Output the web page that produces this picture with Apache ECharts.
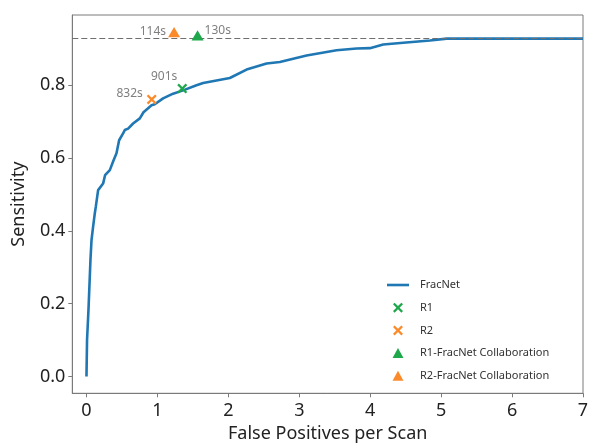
<!DOCTYPE html>
<html>
<head>
<meta charset="utf-8">
<script src="https://cdn.jsdelivr.net/npm/echarts@6/dist/echarts.min.js"></script>
<style>html,body{margin:0;padding:0;background:#fff}#c{width:590px;height:443px}</style>
</head>
<body>
<div id="c"></div>
<script>
// FracNet FROC curve (false positives per scan vs sensitivity)
const fracnetFP = [0, 0.008, 0.028, 0.056, 0.071, 0.093, 0.117, 0.131, 0.164, 0.188, 0.234, 0.262, 0.329, 0.378, 0.423, 0.46, 0.516, 0.54, 0.587, 0.657, 0.752, 0.804, 0.917, 0.963, 1.08, 1.221, 1.362, 1.551, 1.645, 2.021, 2.257, 2.539, 2.726, 3.103, 3.526, 3.808, 3.996, 4.183, 4.466, 4.842, 5.078, 7.0];
const fracnetSens = [0, 0.101, 0.183, 0.320, 0.375, 0.411, 0.448, 0.466, 0.512, 0.517, 0.530, 0.553, 0.567, 0.592, 0.613, 0.649, 0.668, 0.677, 0.681, 0.695, 0.709, 0.726, 0.745, 0.748, 0.764, 0.777, 0.786, 0.800, 0.806, 0.820, 0.843, 0.860, 0.864, 0.882, 0.896, 0.901, 0.902, 0.912, 0.917, 0.923, 0.928, 0.928];
const maxSensitivity = 0.928;

const readerNames = ['R1', 'R2', 'R1-FracNet Collaboration', 'R2-FracNet Collaboration'];
const readerFP = [1.35, 0.92, 1.566, 1.235];
const readerSens = [0.791, 0.761, 0.937, 0.946];
const readerTimes = ['901s', '832s', '130s', '114s'];

const xTicks = [0, 1, 2, 3, 4, 5, 6, 7];
const yTicks = [0, 0.2, 0.4, 0.6, 0.8];

const BLUE = '#1f77b4', GREEN = '#1ea84b', ORANGE = '#fb8a2a';
const XPATH = 'path://M0,1.6L1.6,0L5,3.4L8.4,0L10,1.6L6.6,5L10,8.4L8.4,10L5,6.6L1.6,10L0,8.4L3.4,5Z';
const TRIPATH = 'path://M6,0L12,11L0,11Z';
const LINEPATH = 'path://M0,0H22V2.6H0Z';
const FONT = 'Noto Sans';

const readerStyle = [
  {color: GREEN, symbol: XPATH, size: 10, label: {position: 'left', distance: 0, offset: [0, -12]}},
  {color: ORANGE, symbol: XPATH, size: 10, label: {position: 'left', distance: 4, offset: [0, -6]}},
  {color: GREEN, symbol: TRIPATH, size: [12, 11], label: {position: 'right', distance: 1, offset: [0, -5]}},
  {color: ORANGE, symbol: TRIPATH, size: [12, 11], label: {position: 'left', distance: 2, offset: [0, -1]}}
];

const series = [{
  name: 'FracNet',
  type: 'line',
  data: fracnetFP.map((x, i) => [x, fracnetSens[i]]),
  symbol: 'none',
  smooth: false,
  lineStyle: {color: BLUE, width: 2.6},
  itemStyle: {color: BLUE},
  z: 2,
  markLine: {
    silent: true,
    symbol: 'none',
    label: {show: false},
    lineStyle: {color: '#6f6f6f', type: [6, 3], width: 1},
    data: [{yAxis: maxSensitivity}]
  }
}];
readerNames.forEach((n, i) => {
  const s = readerStyle[i];
  series.push({
    name: n,
    type: 'scatter',
    data: [[readerFP[i], readerSens[i]]],
    symbol: s.symbol,
    symbolSize: s.size,
    symbolKeepAspect: true,
    itemStyle: {color: s.color, opacity: 1},
    z: 5,
    label: Object.assign({
      show: true,
      formatter: readerTimes[i],
      color: '#7f7f7f',
      fontSize: 12,
      fontFamily: FONT
    }, s.label)
  });
});

const legendIcons = [LINEPATH, XPATH, XPATH, TRIPATH, TRIPATH];

const chart = echarts.init(document.getElementById('c'), null, {renderer: 'canvas'});
chart.setOption({
  animation: false,
  backgroundColor: '#fff',
  grid: {left: 72.3, right: 7, top: 15, bottom: 49.7, show: true, borderColor: '#7a7a7a', borderWidth: 1,
         containLabel: false, outerBoundsMode: 'none'},
  xAxis: {
    type: 'value', min: -0.2, max: 7,
    name: 'False Positives per Scan', nameLocation: 'middle', nameGap: 32,
    nameTextStyle: {fontSize: 18, color: '#222', fontFamily: FONT},
    axisLine: {show: true, onZero: false, lineStyle: {color: '#7a7a7a'}},
    axisTick: {show: true, length: 4, customValues: xTicks, lineStyle: {color: '#7a7a7a'}},
    axisLabel: {customValues: xTicks, fontSize: 18, color: '#222', fontFamily: FONT, margin: 9, formatter: v => String(v)},
    splitLine: {show: false}
  },
  yAxis: {
    type: 'value', min: -0.046, max: 0.993,
    name: 'Sensitivity', nameLocation: 'middle', nameGap: 44,
    nameTextStyle: {fontSize: 18, color: '#222', fontFamily: FONT},
    axisLine: {show: true, onZero: false, lineStyle: {color: '#7a7a7a'}},
    axisTick: {show: true, length: 4, customValues: yTicks, lineStyle: {color: '#7a7a7a'}},
    axisLabel: {customValues: yTicks, fontSize: 18, color: '#222', fontFamily: FONT, margin: 7, formatter: v => v.toFixed(1)},
    splitLine: {show: false}
  },
  legend: {
    orient: 'vertical', left: 382, top: 274.5,
    itemWidth: 22, itemHeight: 10, itemGap: 11.7,
    symbolKeepAspect: true,
    selectedMode: false,
    textStyle: {fontSize: 11, color: '#333', fontFamily: FONT, padding: [0, 0, 0, 6]},
    data: ['FracNet'].concat(readerNames).map((n, i) => ({name: n, icon: legendIcons[i]}))
  },
  series: series
});
</script>
</body>
</html>
